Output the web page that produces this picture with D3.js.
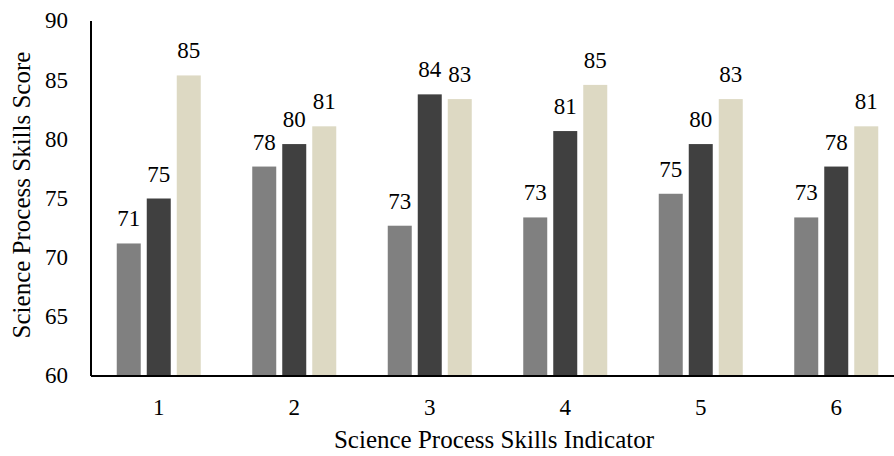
<!DOCTYPE html>
<html>
<head>
<meta charset="utf-8">
<script src="https://cdn.jsdelivr.net/npm/d3@7"></script>
<style>
  html, body { margin: 0; padding: 0; background: #fff; }
  svg { display: block; }
  svg text { font-family: "Liberation Serif", "Times New Roman", "DejaVu Serif", serif; fill: #000; }
  .tick-label, .value-label, .cat-label { font-size: 23px; }
  .axis-title { font-size: 25px; }
</style>
</head>
<body>
<svg id="chart" width="894" height="456"></svg>
<script>
/* Grouped bar chart: science process skills score per indicator, three groups. */
(function () {
  "use strict";

  var categories = ["1", "2", "3", "4", "5", "6"];
  var seriesA = [71.2, 77.7, 72.7, 73.4, 75.4, 73.4];
  var seriesB = [75.0, 79.6, 83.8, 80.7, 79.6, 77.7];
  var seriesC = [85.4, 81.1, 83.4, 84.6, 83.4, 81.1];
  var yTicks = [60, 65, 70, 75, 80, 85, 90];

  var series = [
    { values: seriesA, color: "#808080" },
    { values: seriesB, color: "#404040" },
    { values: seriesC, color: "#ddd9c3" }
  ];

  var svg = d3.select("#chart");
  var left = 91, right = 904, top = 21, bottom = 376;

  var y = d3.scaleLinear().domain([60, 90]).range([bottom, top]);

  var x0 = d3
    .scaleBand()
    .domain(categories)
    .range([left, right])
    .paddingInner(0.38)
    .paddingOuter(0.19);

  var x1 = d3
    .scaleBand()
    .domain(d3.range(series.length))
    .range([0, x0.bandwidth()])
    .paddingInner(0.2);

  var fmt = d3.format(".0f");

  // bars and their value labels
  series.forEach(function (s, si) {
    var g = svg.append("g");
    g.selectAll("rect")
      .data(s.values)
      .join("rect")
      .attr("x", function (d, i) {
        return x0(categories[i]) + x1(si);
      })
      .attr("y", function (d) {
        return y(d);
      })
      .attr("width", x1.bandwidth())
      .attr("height", function (d) {
        return y(60) - y(d);
      })
      .attr("fill", s.color);

    g.selectAll("text")
      .data(s.values)
      .join("text")
      .attr("class", "value-label")
      .attr("text-anchor", "middle")
      .attr("x", function (d, i) {
        return x0(categories[i]) + x1(si) + x1.bandwidth() / 2;
      })
      .attr("y", function (d) {
        return y(d) - 17;
      })
      .text(function (d) {
        return fmt(d);
      });
  });

  // y axis: line and tick labels, no tick marks
  svg.append("line")
    .attr("x1", left).attr("x2", left)
    .attr("y1", y(90)).attr("y2", y(60))
    .attr("stroke", "#000").attr("stroke-width", 2);

  svg.append("g")
    .selectAll("text")
    .data(yTicks)
    .join("text")
    .attr("class", "tick-label")
    .attr("text-anchor", "end")
    .attr("x", 68)
    .attr("y", function (d) { return y(d); })
    .attr("dy", "0.32em")
    .text(function (d) { return d; });

  // x axis
  svg.append("line")
    .attr("x1", left).attr("x2", 894)
    .attr("y1", y(60)).attr("y2", y(60))
    .attr("stroke", "#000").attr("stroke-width", 2);

  svg.append("g")
    .selectAll("text")
    .data(categories)
    .join("text")
    .attr("class", "cat-label")
    .attr("text-anchor", "middle")
    .attr("x", function (d) { return x0(d) + x0.bandwidth() / 2; })
    .attr("y", 415)
    .text(function (d) { return d; });

  // axis titles
  svg.append("text")
    .attr("class", "axis-title")
    .attr("text-anchor", "middle")
    .attr("x", 494)
    .attr("y", 448)
    .text("Science Process Skills Indicator");

  svg.append("text")
    .attr("class", "axis-title")
    .attr("text-anchor", "middle")
    .attr("transform", "translate(30,195) rotate(-90)")
    .text("Science Process Skills Score");
})();
</script>
</body>
</html>
